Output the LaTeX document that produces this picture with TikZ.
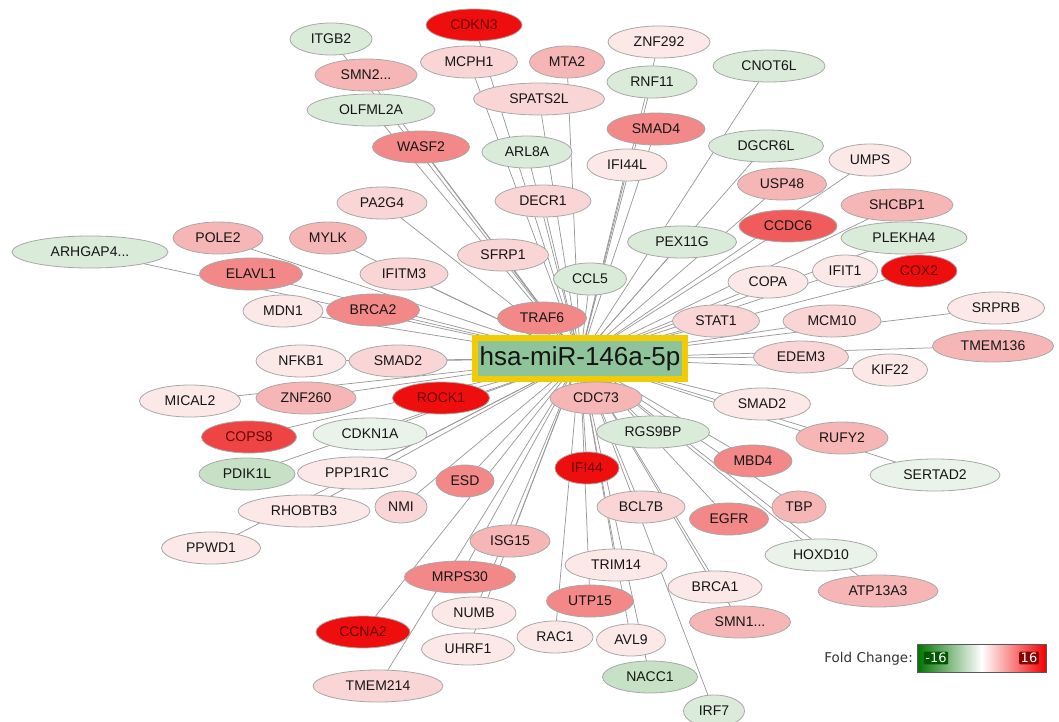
\documentclass[tikz,border=0pt]{standalone}
\usepackage{fontspec}
\setmainfont{Liberation Sans}
\newfontfamily\legfont{DejaVu Sans}
\usetikzlibrary{shapes.geometric,backgrounds}
\definecolor{cRed}{HTML}{EE0E0E}
\definecolor{cRedTxt}{HTML}{6A0000}
\definecolor{cRedB}{HTML}{EE4444}
\definecolor{cRedC}{HTML}{F05C5C}
\definecolor{cMid}{HTML}{F28888}
\definecolor{cPink}{HTML}{F7B6B6}
\definecolor{cLight}{HTML}{FAD5D5}
\definecolor{cVlight}{HTML}{FDE8E8}
\definecolor{cGreen}{HTML}{C6E1C6}
\definecolor{cLgreen}{HTML}{DAEBDA}
\definecolor{cVlgreen}{HTML}{E9F3E9}
\definecolor{cBorder}{HTML}{A8A8A8}
\definecolor{cEdge}{HTML}{9A9A9A}
\definecolor{cHubFill}{HTML}{8FC49B}
\definecolor{cHubLine}{HTML}{F2CC00}
\definecolor{cTxt}{HTML}{151515}
\tikzset{
  gn/.style={ellipse, draw=cBorder, line width=0.8pt, inner sep=0pt, minimum height=32pt,
    text=cTxt, font=\fontsize{14}{16}\selectfont},
  nRed/.style={fill=cRed, text=cRedTxt},
  nRedB/.style={fill=cRedB, text=cRedTxt},
  nRedC/.style={fill=cRedC},
  nMid/.style={fill=cMid},
  nPink/.style={fill=cPink},
  nLight/.style={fill=cLight},
  nVlight/.style={fill=cVlight},
  nGreen/.style={fill=cGreen},
  nLgreen/.style={fill=cLgreen},
  nVlgreen/.style={fill=cVlgreen},
  edge/.style={draw=cEdge, line width=0.75pt},
  hub/.style={rectangle, draw=cHubLine, line width=6pt, fill=cHubFill, minimum width=210pt,
    minimum height=41pt, inner sep=0pt, text=black!92, font=\fontsize{26}{28}\selectfont},
  legtext/.style={text=black!80, font=\legfont\fontsize{13.5}{15}\selectfont, inner sep=0pt},
  leglab/.style={text=white, font=\legfont\fontsize{13}{14}\selectfont, inner sep=1.5pt, rounded corners=1pt},
}
\begin{document}
\begin{tikzpicture}[x=1pt,y=-1pt]
\useasboundingbox (0,0) rectangle (1059,722);
\node[hub] (hub) at (580,358.5) {hsa-miR-146a-5p};
% top
\node[gn,nLgreen,minimum width=82] (ITGB2) at (331,39) {ITGB2};
\node[gn,nRed,minimum width=96] (CDKN3) at (474,25) {CDKN3};
\node[gn,nPink,minimum width=102] (SMN2) at (366,75) {SMN2...};
\node[gn,nLight,minimum width=97] (MCPH1) at (469,62) {MCPH1};
\node[gn,nPink,minimum width=75] (MTA2) at (567,62) {MTA2};
\node[gn,nVlight,minimum width=102] (ZNF292) at (659,42) {ZNF292};
\node[gn,nLgreen,minimum width=90] (RNF11) at (652,82) {RNF11};
\node[gn,nLgreen,minimum width=112] (CNOT6L) at (769,66) {CNOT6L};
\node[gn,nLgreen,minimum width=128] (OLFML2A) at (371,110) {OLFML2A};
\node[gn,nLight,minimum width=131] (SPATS2L) at (539,99) {SPATS2L};
\node[gn,nMid,minimum width=98] (SMAD4) at (656,129) {SMAD4};
\node[gn,nMid,minimum width=97] (WASF2) at (421,147) {WASF2};
\node[gn,nLgreen,minimum width=90] (ARL8A) at (527,152) {ARL8A};
\node[gn,nVlight,minimum width=80] (IFI44L) at (627,165) {IFI44L};
\node[gn,nLgreen,minimum width=115] (DGCR6L) at (766,146) {DGCR6L};
\node[gn,nVlight,minimum width=82] (UMPS) at (870,160) {UMPS};
\node[gn,nPink,minimum width=89] (USP48) at (782,184) {USP48};
\node[gn,nLight,minimum width=96] (DECR1) at (543,201) {DECR1};
\node[gn,nLight,minimum width=90] (PA2G4) at (382,203) {PA2G4};
\node[gn,nPink,minimum width=112] (SHCBP1) at (897,205) {SHCBP1};
\node[gn,nRedC,minimum width=98] (CCDC6) at (788,226) {CCDC6};
\node[gn,nLgreen,minimum width=126] (PLEKHA4) at (904,238) {PLEKHA4};
\node[gn,nLgreen,minimum width=109] (PEX11G) at (682,242) {PEX11G};
\node[gn,nPink,minimum width=90] (POLE2) at (218,238) {POLE2};
\node[gn,nPink,minimum width=77] (MYLK) at (328,238) {MYLK};
\node[gn,nLgreen,minimum width=156] (ARHGAP4) at (90,252) {ARHGAP4...};
\node[gn,nLight,minimum width=91] (SFRP1) at (503,255) {SFRP1};
\node[gn,nLgreen,minimum width=73] (CCL5) at (590,279) {CCL5};
\node[gn,nMid,minimum width=103] (ELAVL1) at (251,274) {ELAVL1};
\node[gn,nLight,minimum width=88] (IFITM3) at (404,274) {IFITM3};
\node[gn,nVlight,minimum width=80] (COPA) at (768,282) {COPA};
\node[gn,nVlight,minimum width=65] (IFIT1) at (845,271) {IFIT1};
\node[gn,nRed,minimum width=76] (COX2) at (919,271) {COX2};
\node[gn,nVlight,minimum width=80] (MDN1) at (283,311) {MDN1};
\node[gn,nMid,minimum width=93] (BRCA2) at (373,310) {BRCA2};
\node[gn,nMid,minimum width=89] (TRAF6) at (542,318) {TRAF6};
\node[gn,nLight,minimum width=87] (STAT1) at (716,321) {STAT1};
\node[gn,nLight,minimum width=98] (MCM10) at (832,321) {MCM10};
\node[gn,nVlight,minimum width=97] (SRPRB) at (996,308) {SRPRB};
\node[gn,nPink,minimum width=121] (TMEM136) at (993,346) {TMEM136};
% middle
\node[gn,nLight,minimum width=95] (EDEM3) at (801,357) {EDEM3};
\node[gn,nVlight,minimum width=75] (KIF22) at (890,370) {KIF22};
\node[gn,nVlight,minimum width=90] (NFKB1) at (301,361) {NFKB1};
\node[gn,nLight,minimum width=98] (SMAD2L) at (398,361) {SMAD2};
\node[gn,nVlight,minimum width=101] (MICAL2) at (190,401) {MICAL2};
\node[gn,nPink,minimum width=100] (ZNF260) at (306,398) {ZNF260};
\node[gn,nRed,minimum width=97] (ROCK1) at (441,398) {ROCK1};
\node[gn,nPink,minimum width=92] (CDC73) at (596,398) {CDC73};
\node[gn,nVlight,minimum width=97] (SMAD2R) at (762,404) {SMAD2};
\node[gn,nRedB,minimum width=95] (COPS8) at (249,437) {COPS8};
\node[gn,nVlgreen,minimum width=114] (CDKN1A) at (370,434) {CDKN1A};
\node[gn,nLgreen,minimum width=113] (RGS9BP) at (653,432) {RGS9BP};
\node[gn,nPink,minimum width=92] (RUFY2) at (842,438) {RUFY2};
% lower
\node[gn,nGreen,minimum width=96] (PDIK1L) at (247,474) {PDIK1L};
\node[gn,nVlight,minimum width=119] (PPP1R1C) at (357,473) {PPP1R1C};
\node[gn,nMid,minimum width=58] (ESD) at (465,481) {ESD};
\node[gn,nRed,minimum width=64] (IFI44) at (587,468) {IFI44};
\node[gn,nMid,minimum width=78] (MBD4) at (753,461) {MBD4};
\node[gn,nVlgreen,minimum width=130] (SERTAD2) at (935,475) {SERTAD2};
\node[gn,nLight,minimum width=52] (NMI) at (401,507) {NMI};
\node[gn,nVlight,minimum width=132] (RHOBTB3) at (304,511) {RHOBTB3};
\node[gn,nLight,minimum width=88] (BCL7B) at (641,507) {BCL7B};
\node[gn,nPink,minimum width=54] (TBP) at (799,507) {TBP};
\node[gn,nMid,minimum width=79] (EGFR) at (729,519) {EGFR};
\node[gn,nVlight,minimum width=99] (PPWD1) at (211,548) {PPWD1};
\node[gn,nPink,minimum width=80] (ISG15) at (510,541) {ISG15};
\node[gn,nVlgreen,minimum width=112] (HOXD10) at (821,555) {HOXD10};
\node[gn,nVlight,minimum width=102] (TRIM14) at (616,565) {TRIM14};
\node[gn,nMid,minimum width=111] (MRPS30) at (460,577) {MRPS30};
\node[gn,nVlight,minimum width=94] (BRCA1) at (715,587) {BRCA1};
\node[gn,nPink,minimum width=120] (ATP13A3) at (878,591) {ATP13A3};
\node[gn,nMid,minimum width=87] (UTP15) at (590,601) {UTP15};
\node[gn,nVlight,minimum width=84] (NUMB) at (474,613) {NUMB};
\node[gn,nPink,minimum width=101] (SMN1) at (740,622) {SMN1...};
\node[gn,nRed,minimum width=94] (CCNA2) at (363,632) {CCNA2};
\node[gn,nVlight,minimum width=76] (RAC1) at (555,637) {RAC1};
\node[gn,nVlight,minimum width=69] (AVL9) at (631,640) {AVL9};
\node[gn,nVlight,minimum width=93] (UHRF1) at (468,649) {UHRF1};
\node[gn,nGreen,minimum width=95] (NACC1) at (650,677) {NACC1};
\node[gn,nLight,minimum width=130] (TMEM214) at (378,686) {TMEM214};
\node[gn,nLgreen,minimum width=61] (IRF7) at (714,711) {IRF7};
% edges
\begin{pgfonlayer}{background}
\foreach \n in {ITGB2,CDKN3,SMN2,MCPH1,MTA2,ZNF292,RNF11,CNOT6L,OLFML2A,SPATS2L,SMAD4,WASF2,
  ARL8A,IFI44L,DGCR6L,UMPS,USP48,DECR1,PA2G4,SHCBP1,CCDC6,PLEKHA4,PEX11G,POLE2,MYLK,ARHGAP4,
  SFRP1,CCL5,ELAVL1,IFITM3,COPA,IFIT1,COX2,MDN1,BRCA2,TRAF6,STAT1,MCM10,SRPRB,TMEM136,
  EDEM3,KIF22,NFKB1,SMAD2L,MICAL2,ZNF260,ROCK1,CDC73,SMAD2R,COPS8,CDKN1A,RGS9BP,RUFY2,
  PDIK1L,PPP1R1C,ESD,IFI44,MBD4,SERTAD2,NMI,RHOBTB3,BCL7B,TBP,EGFR,PPWD1,ISG15,HOXD10,
  TRIM14,MRPS30,BRCA1,ATP13A3,UTP15,NUMB,SMN1,CCNA2,RAC1,AVL9,UHRF1,NACC1,TMEM214,IRF7}
  \draw[edge] (hub.center) -- (\n.center);
\end{pgfonlayer}
% legend
\node[legtext,anchor=east] (fc) at (913,659) {Fold Change:};
\node[draw=black!65, line width=0.8pt, minimum width=129pt, minimum height=28pt, inner sep=0pt,
  left color=green!45!black, right color=red!95!black, middle color=white] (bar) at (981.5,658) {};
\node[leglab,fill=green!35!black] (lo) at (936,658) {-16};
\node[leglab,fill=red!55!black] (hi) at (1029,658) {16};
\end{tikzpicture}
\end{document}
